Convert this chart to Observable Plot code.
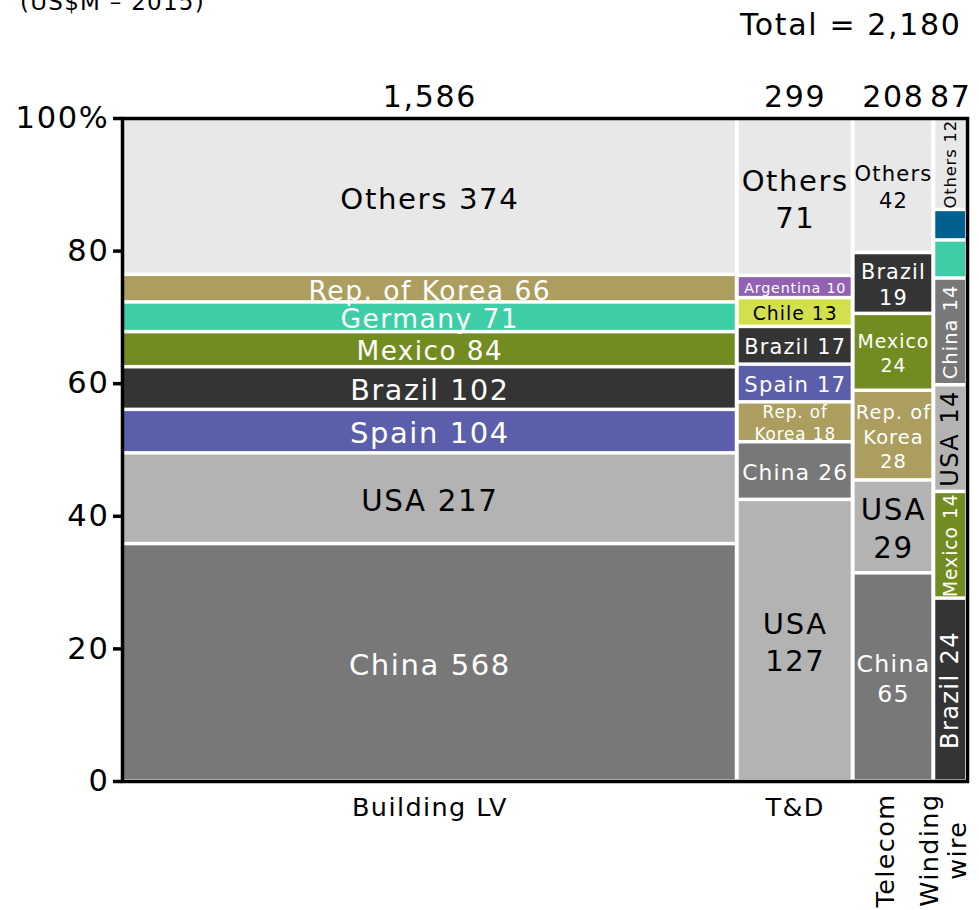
<!DOCTYPE html>
<html><head><meta charset="utf-8">
<script src="https://cdn.jsdelivr.net/npm/d3@7"></script>
<script src="https://cdn.jsdelivr.net/npm/@observablehq/plot@0.6"></script>
<style>
html,body{margin:0;padding:0;background:#fff;}
#wrap{position:relative;width:979px;height:910px;overflow:hidden;font-family:"DejaVu Sans",sans-serif;}
#wrap svg text{letter-spacing:0.055em;}
.note{position:absolute;white-space:nowrap;letter-spacing:0.055em;color:#000;}
#unit{left:20px;top:-9.4px;font-size:23px;line-height:23px;}
#total{right:17.5px;top:9.6px;font-size:30px;line-height:30px;}
</style></head><body>
<div id="wrap"><div class="note" id="unit">(US$M – 2015)</div><div class="note" id="total"></div></div>
<script>
// ---- data ----
const columns = ["Building LV", "T&D", "Telecom", "Winding wire"];
const columnTotals = [1586, 299, 208, 87];
const grandTotal = 2180;

const buildingCountries = ["China", "USA", "Spain", "Brazil", "Mexico", "Germany", "Rep. of Korea", "Others"];
const buildingValues    = [568, 217, 104, 102, 84, 71, 66, 374];

const tdCountries = ["USA", "China", "Rep. of Korea", "Spain", "Brazil", "Chile", "Argentina", "Others"];
const tdValues    = [127, 26, 18, 17, 17, 13, 10, 71];

const telecomCountries = ["China", "USA", "Rep. of Korea", "Mexico", "Brazil", "Others"];
const telecomValues    = [65, 29, 28, 24, 19, 42];

const windingCountries = ["Brazil", "Mexico", "USA", "China", "Germany", "Unlabelled", "Others"];
const windingValues    = [24, 14, 14, 14, 5, 4, 12];

const yTicks = [0, 20, 40, 60, 80, 100];

// ---- styles (kept apart from data) ----
const countryColors = {
  "China": "#787878", "USA": "#b3b3b3", "Spain": "#5b5fab", "Brazil": "#343434",
  "Mexico": "#738c22", "Germany": "#3dcea8", "Rep. of Korea": "#ac9e5e", "Others": "#e8e8e8",
  "Chile": "#d4df4c", "Argentina": "#9161b2", "Unlabelled": "#00608f"
};
const darkInk = new Set(["USA", "Others", "Chile"]);
const labelSize = {
  "Building LV|Others": 29.2, "Building LV|Rep. of Korea": 26.6, "Building LV|Germany": 26.5,
  "Building LV|Mexico": 26.3, "Building LV|Brazil": 28.6, "Building LV|Spain": 29,
  "Building LV|USA": 29.3, "Building LV|China": 29,
  "T&D|Others": 29, "T&D|Argentina": 14.3, "T&D|Chile": 18.8, "T&D|Brazil": 20.9,
  "T&D|Spain": 21.1, "T&D|Rep. of Korea": 16.8, "T&D|China": 21.7, "T&D|USA": 29,
  "Telecom|Others": 21.1, "Telecom|Brazil": 20.8, "Telecom|Mexico": 18.8,
  "Telecom|Rep. of Korea": 19.4, "Telecom|USA": 29.3, "Telecom|China": 23.6,
  "Winding wire|Others": 16.3, "Winding wire|China": 19.4, "Winding wire|USA": 24.2,
  "Winding wire|Mexico": 18.6, "Winding wire|Brazil": 24.2
};
const LS = 0.055;
const W = 979, H = 910, ML = 122, MR = 12, MT = 118, MB = 129;
const pxPerUnit = (W - ML - MR) / grandTotal;

const ctx = document.createElement("canvas").getContext("2d");
function measure(s, size) {
  ctx.font = `${size}px "DejaVu Sans"`;
  return ctx.measureText(s).width + s.length * LS * size;
}
function wrapLines(text, size, maxW) {
  const words = text.split(" ");
  const lines = [];
  let cur = "";
  for (const w of words) {
    const t = cur ? cur + " " + w : w;
    if (cur && measure(t, size) > maxW) { lines.push(cur); cur = w; } else cur = t;
  }
  lines.push(cur);
  return lines.join("\n");
}

// ---- build table ----
const series = [
  [buildingCountries, buildingValues],
  [tdCountries, tdValues],
  [telecomCountries, telecomValues],
  [windingCountries, windingValues]
];
const colTable = [];
const cells = [];
let xStart = 0;
columns.forEach((col, i) => {
  const total = columnTotals[i];
  const x1 = xStart, x2 = xStart + total;
  xStart = x2;
  colTable.push({col, total, x1, x2, mid: (x1 + x2) / 2});
  const [names, vals] = series[i];
  const sum = d3.sum(vals);
  let cum = 0;
  const colPx = total * pxPerUnit;
  names.forEach((country, j) => {
    const v = vals[j];
    const y1 = cum / sum * 100;
    cum += v;
    const y2 = cum / sum * 100;
    const size = labelSize[`${col}|${country}`] || 0;
    const raw = `${country} ${v}`;
    const rotate = colPx < 50;
    const label = size ? (rotate ? raw : wrapLines(raw, size, colPx - 4 + 8)) : "";
    cells.push({col, country, value: v, x1, x2, y1, y2, size, rotate, label,
      mx: (x1 + x2) / 2, my: (y1 + y2) / 2});
  });
});

document.getElementById("total").textContent = `Total = ${d3.format(",")(grandTotal)}`;

// column label layout
const colLabelSize = 25.5;
const horizLabels = [], rotLabels = [];
colTable.forEach(c => {
  const colPx = c.total * pxPerUnit;
  if (measure(c.col, colLabelSize) < colPx) horizLabels.push(c);
  else {
    const text = c.col.split(" ").join("\n");
    const L = d3.max(text.split("\n"), s => measure(s, colLabelSize));
    rotLabels.push({...c, text, L});
  }
});

const marks = [
  Plot.rect(cells, {
    x1: "x1", x2: "x2", y1: "y1", y2: "y2",
    fill: d => countryColors[d.country],
    insetLeft: 2, insetRight: 2, insetTop: 1.75, insetBottom: 1.75
  }),
  Plot.text(cells.filter(d => d.size && !d.rotate), {
    x: "mx", y: "my", text: "label", fontSize: d => d.size,
    fill: d => darkInk.has(d.country) ? "#000" : "#fff",
    lineAnchor: "middle", textAnchor: "middle", lineHeight: 1.28
  }),
  Plot.text(cells.filter(d => d.size && d.rotate), {
    x: "mx", y: "my", text: "label", fontSize: d => d.size, rotate: -90,
    fill: d => darkInk.has(d.country) ? "#000" : "#fff",
    lineAnchor: "middle", textAnchor: "middle"
  }),
  Plot.frame({stroke: "#000", strokeWidth: 3.5}),
  Plot.axisY(yTicks, {
    tickSize: 9, tickPadding: 4, strokeWidth: 3.5, fontSize: 30.5,
    tickFormat: d => d === 100 ? "100%" : String(d), label: null
  }),
  Plot.text(colTable, {
    x: "mid", text: d => d3.format(",")(d.total), frameAnchor: "top",
    lineAnchor: "bottom", dy: -12, fontSize: 30, fill: "#000"
  }),
  Plot.text(horizLabels, {
    x: "mid", text: "col", frameAnchor: "bottom", lineAnchor: "top",
    dy: 16, fontSize: colLabelSize, fill: "#000"
  }),
  ...rotLabels.map(r => Plot.text([r], {
    x: "mid", text: "text", frameAnchor: "bottom", rotate: -90,
    textAnchor: "middle", lineAnchor: "middle", lineHeight: 1.1,
    dx: -8, dy: 12 + r.L / 2, fontSize: colLabelSize, fill: "#000"
  }))
];

const chart = Plot.plot({
  width: W, height: H,
  marginLeft: ML, marginRight: MR, marginTop: MT, marginBottom: MB,
  style: {fontFamily: '"DejaVu Sans", sans-serif', background: "transparent", overflow: "visible"},
  x: {domain: [0, grandTotal], axis: null},
  y: {domain: [0, 100]},
  marks
});
chart.style.position = "absolute";
chart.style.left = "0px";
chart.style.top = "0px";
document.getElementById("wrap").appendChild(chart);
</script>
</body></html>
